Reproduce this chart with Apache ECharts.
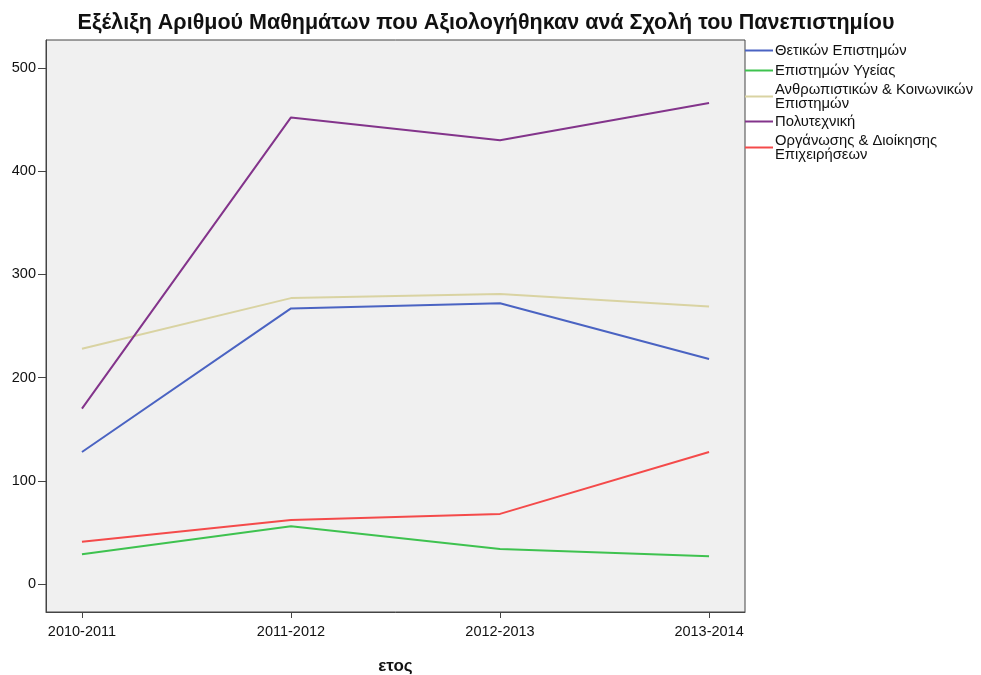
<!DOCTYPE html>
<html>
<head>
<meta charset="utf-8">
<script src="https://cdn.jsdelivr.net/npm/echarts@6/dist/echarts.min.js"></script>
<style>html,body{margin:0;padding:0;background:#fff;}#c{width:981px;height:675px;}</style>
</head>
<body>
<div id="c"></div>
<script>
const years = ['2010-2011', '2011-2012', '2012-2013', '2013-2014'];
const yTicks = [0, 100, 200, 300, 400, 500];
const seriesNames = ['Θετικών Επιστημών', 'Επιστημών Υγείας', 'Ανθρωπιστικών & Κοινωνικών Επιστημών', 'Πολυτεχνική', 'Οργάνωσης & Διοίκησης Επιχειρήσεων'];
const thetikon = [128, 267, 272, 218];
const ygeias = [29, 56, 34, 27];
const anthropistikon = [228, 277, 281, 269];
const polytexniki = [170, 452, 430, 466];
const organosis = [41, 62, 68, 128];
const colors = ['#4a63c2', '#3ec24f', '#d9d3a2', '#83348b', '#f44a4a'];
const legendLabels = ['Θετικών Επιστημών', 'Επιστημών Υγείας', 'Ανθρωπιστικών & Κοινωνικών\nΕπιστημών', 'Πολυτεχνική', 'Οργάνωσης & Διοίκησης\nΕπιχειρήσεων'];

const allValues = [thetikon, ygeias, anthropistikon, polytexniki, organosis];
const legendTops = [43, 63, 82, 114, 133];

const chart = echarts.init(document.getElementById('c'), null, {renderer: 'canvas'});
const font = 'Liberation Sans, Arial, sans-serif';

const legends = seriesNames.map((n, i) => ({
  orient: 'vertical',
  left: 745,
  top: legendTops[i],
  padding: 0,
  itemWidth: 28,
  itemHeight: 13,
  itemGap: 0,
  data: [{name: n, icon: 'path://M0,6 L28,6 L28,8 L0,8 Z', itemStyle: {color: colors[i]}}],
  formatter: () => legendLabels[i],
  selectedMode: false,
  textStyle: {fontFamily: font, fontSize: 14.8, color: '#111', lineHeight: 14, padding: [0, 0, 0, -3]}
}));

chart.setOption({
  animation: false,
  title: {
    text: 'Εξέλιξη Αριθμού Μαθημάτων που Αξιολογήθηκαν ανά Σχολή του Πανεπιστημίου',
    left: 481, textAlign: 'center', top: 7,
    textStyle: {fontFamily: font, fontSize: 21.5, fontWeight: 'bold', color: '#111'}
  },
  legend: legends,
  grid: {
    left: 46, right: 236, top: 40, bottom: 63,
    containLabel: false, outerBoundsMode: 'none',
    show: true, backgroundColor: '#f0f0f0', borderColor: '#444', borderWidth: 1
  },
  xAxis: {
    type: 'value', min: -0.172, max: 3.172,
    name: 'ετος', nameLocation: 'middle', nameGap: 46,
    nameTextStyle: {fontFamily: font, fontSize: 17, fontWeight: 'bold', color: '#111'},
    splitLine: {show: false},
    axisLine: {show: true, onZero: false, lineStyle: {color: '#444'}},
    axisTick: {show: true, length: 6, lineStyle: {color: '#444'}, customValues: [0, 1, 2, 3]},
    axisLabel: {customValues: [0, 1, 2, 3], formatter: v => years[Math.round(v)] || '',
      fontFamily: font, fontSize: 14.5, color: '#111', margin: 12}
  },
  yAxis: {
    type: 'value', min: -27, max: 527,
    splitLine: {show: false},
    axisLine: {show: true, onZero: false, lineStyle: {color: '#444'}},
    axisTick: {show: true, length: 8, lineStyle: {color: '#444'}, customValues: yTicks},
    axisLabel: {customValues: yTicks, fontFamily: font, fontSize: 14.5, color: '#111', margin: 10}
  },
  series: seriesNames.map((n, i) => ({
    name: n, type: 'line', symbol: 'none',
    data: allValues[i].map((v, j) => [j, v]),
    lineStyle: {color: colors[i], width: 2},
    itemStyle: {color: colors[i]}
  }))
});
</script>
</body>
</html>
